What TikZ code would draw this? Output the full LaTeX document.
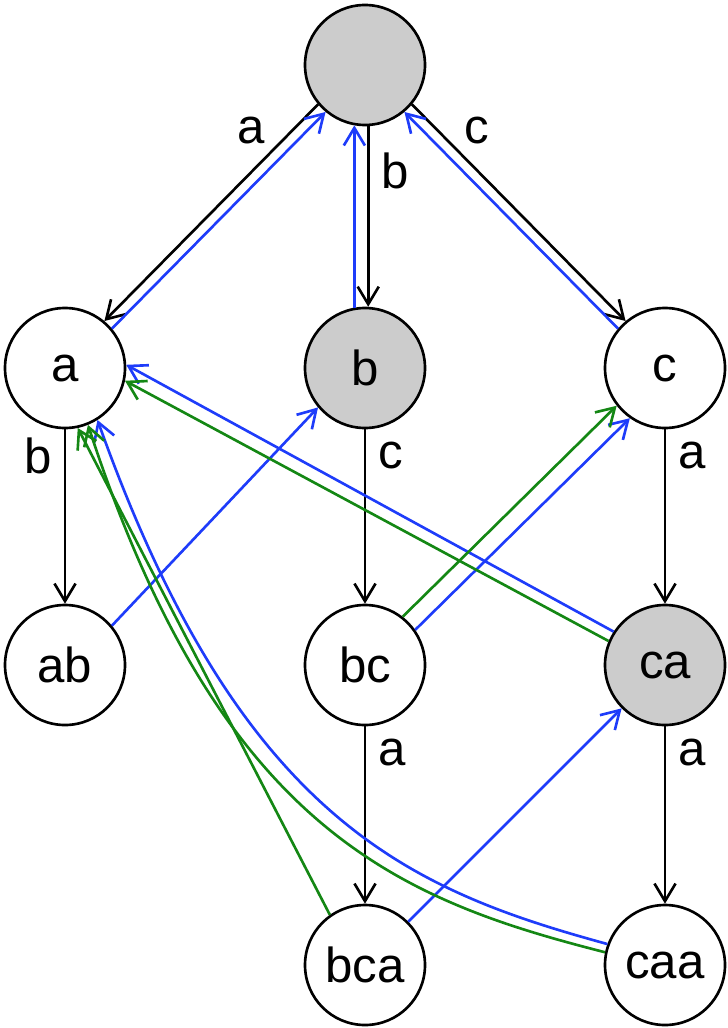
\documentclass[tikz,border=0pt]{standalone}
\usepackage{fontspec}
\setmainfont{Liberation Sans}
\usetikzlibrary{arrows.meta}
\definecolor{failblue}{RGB}{30,60,250}
\definecolor{outgreen}{RGB}{20,135,20}
\begin{document}
\begin{tikzpicture}[x=1cm,y=1cm]
    \tikzstyle{every node} = [font=\fontsize{14}{16}\selectfont]
    \tikzstyle{state} = [draw, circle, line width=0.75pt, minimum size=1.2cm, inner sep=0pt]
    \tikzstyle{term} = [state, fill=black!20]
    \tikzstyle{edge} = [-{Straight Barb[length=5pt,width=6pt]}, line width=0.75pt]
    \tikzstyle{fail} = [edge, failblue]
    \tikzstyle{dict} = [edge, outgreen]
    \useasboundingbox (0,0) rectangle (7.28,-10.28);
    % place nodes
    \node[term](root) at (3.65,-0.65){};
    \node[state](a) at (0.65,-3.68){a};
    \node[state,fill=black!20](b) at (3.65,-3.68){b};
    \node[state](c) at (6.65,-3.68){c};
    \node[state](ab) at (0.65,-6.65){ab};
    \node[state](bc) at (3.65,-6.65){bc};
    \node[term](ca) at (6.65,-6.65){ca};
    \node[state](bca) at (3.65,-9.65){bca};
    \node[state](caa) at (6.65,-9.65){caa};

    % Trie edges
    \draw[edge] (root.220)--node[pos=0.12,left=4pt]{a}(a.50);
    \draw[edge] (root.-87)--node[pos=0.25,right]{b}(b.87);
    \draw[edge] (root.320)--node[pos=0.12,right=4pt]{c}(c.130);
    \draw[edge] (a)--node[pos=0.15,left]{b}(ab);
    \draw[edge] (b)--node[pos=0.15,right]{c}(bc);
    \draw[edge] (c)--node[pos=0.15,right]{a}(ca);
    \draw[edge] (bc)--node[pos=0.15,right]{a}(bca);
    \draw[edge] (ca)--node[pos=0.15,right]{a}(caa);

    % Failure links
    \draw[fail] (a.40)--(root.230);
    \draw[fail] (b.100)--(root.-100);
    \draw[fail] (c.140)--(root.310);
    \draw[fail] (ab.40)--(b.220);
    \draw[fail] (bc.35)--(c.235);
    \draw[fail] (ca.147)--(a.3);
    \draw[fail] (bca.45)--(ca.225);
    \draw[fail] (caa.160) .. controls (4.1,-8.9) and (2.4,-8.2) .. (a.-58);

    % Output links
    \draw[dict] (bc.52)--(c.218);
    \draw[dict] (ca.157)--(a.-12);
    \draw[dict] (bca.125)--(a.-78);
    \draw[dict] (caa.168) .. controls (4.0,-9.0) and (2.2,-8.3) .. (a.-68);
\end{tikzpicture}
\end{document}
